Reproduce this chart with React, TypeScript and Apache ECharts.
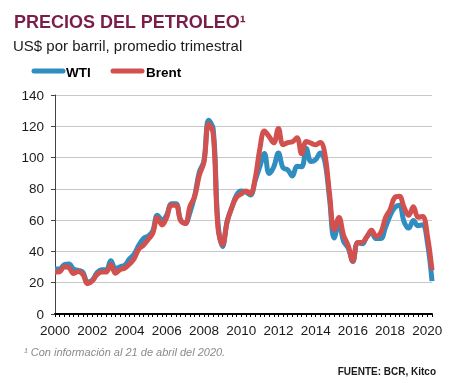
import React, { useEffect, useRef } from "react";
import * as echarts from "echarts";

const years = [2000, 2001, 2002, 2003, 2004, 2005, 2006, 2007, 2008, 2009, 2010, 2011, 2012, 2013, 2014, 2015, 2016, 2017, 2018, 2019, 2020];
const quarters = ["T1", "T2", "T3", "T4"];
const categories: string[] = [];
years.forEach((y) => quarters.forEach((q) => { if (!(y === 2020 && (q === "T3" || q === "T4"))) categories.push(y + q); }));

const wti = [
  28.8, 28.8, 31.6, 31.9,
  28.7, 27.9, 26.7, 20.4,
  21.6, 26.3, 28.3, 28.2,
  34.0, 28.9, 30.2, 31.2,
  35.2, 38.3, 43.9, 48.3,
  49.8, 53.1, 63.2, 60.0,
  63.3, 70.5, 70.5, 60.0,
  58.2, 65.0, 75.4, 90.7,
  97.9, 123.8, 118.1, 58.7,
  43.1, 59.5, 68.2, 76.0,
  78.7, 78.0, 76.1, 85.2,
  94.1, 102.6, 89.8, 94.0,
  102.9, 93.4, 92.2, 88.2,
  94.4, 94.2, 105.8, 97.5,
  98.7, 103.0, 97.2, 73.2,
  48.6, 57.9, 46.5, 42.2,
  33.6, 45.6, 44.9, 49.3,
  51.8, 48.2, 48.2, 55.3,
  62.9, 68.0, 69.5, 59.0,
  54.9, 59.8, 56.4, 57.0,
  46.0, 21.0,
];

const brent = [
  26.8, 27.0, 30.2, 29.6,
  25.9, 27.2, 25.3, 19.4,
  21.1, 25.1, 26.9, 26.8,
  31.5, 26.0, 28.4, 29.4,
  31.9, 35.4, 41.5, 44.0,
  47.6, 51.6, 61.6, 56.9,
  61.8, 69.6, 69.6, 59.7,
  57.8, 68.8, 74.9, 88.7,
  96.9, 121.4, 115.0, 55.5,
  44.4, 59.1, 68.2, 74.6,
  76.7, 78.7, 76.9, 86.5,
  105.4, 117.0, 113.4, 109.4,
  118.6, 108.2, 109.6, 110.1,
  112.6, 102.4, 110.3, 109.2,
  108.2, 109.7, 101.9, 76.4,
  53.9, 61.7, 50.4, 43.7,
  33.9, 45.6, 45.8, 49.3,
  53.6, 49.6, 52.0, 61.4,
  66.8, 74.5, 75.2, 68.1,
  63.1, 68.5, 61.9, 62.4,
  50.3, 28.0,
];

const FONT = "'Liberation Sans', Arial, sans-serif";
const BLUE = "#2f8dbf";
const RED = "#d2514f";

export default function App() {
  const ref = useRef<HTMLDivElement>(null);
  useEffect(() => {
    const chart = echarts.init(ref.current!, null, { renderer: "svg" });
    chart.setOption({
      animation: false,
      textStyle: { fontFamily: FONT },
      grid: { left: 55, right: 21, top: 95, bottom: 69 },
      xAxis: {
        type: "category",
        data: categories,
        boundaryGap: false,
        axisLine: { lineStyle: { color: "#000", width: 2 } },
        axisTick: { show: true, interval: 0, length: 3, lineStyle: { color: "#000", width: 1 } },
        axisLabel: {
          interval: (i: number) => i % 8 === 0,
          formatter: (v: string) => v.slice(0, 4),
          color: "#1a1a1a",
          fontSize: 13.5,
          fontFamily: FONT,
          margin: 9,
        },
        splitLine: { show: false },
      },
      yAxis: {
        type: "value",
        min: 0,
        max: 140,
        interval: 20,
        axisLine: { show: true, lineStyle: { color: "#444", width: 1 } },
        axisTick: { show: true, length: 4, lineStyle: { color: "#444" } },
        axisLabel: { color: "#1a1a1a", fontSize: 13.5, fontFamily: FONT, margin: 11 },
        splitLine: { lineStyle: { color: "#c8c8c8", width: 1 } },
      },
      series: [
        {
          name: "WTI",
          type: "line",
          data: wti,
          smooth: 0.4,
          showSymbol: false,
          lineStyle: { color: BLUE, width: 5 },
          itemStyle: { color: BLUE },
          z: 2,
        },
        {
          name: "Brent",
          type: "line",
          data: brent,
          smooth: 0.4,
          showSymbol: false,
          lineStyle: { color: RED, width: 5 },
          itemStyle: { color: RED },
          z: 3,
        },
      ],
      graphic: [
        {
          type: "text",
          x: 14,
          y: 22,
          style: { text: "PRECIOS DEL PETROLEO¹", fill: "#7a1d4a", font: `bold 18px ${FONT}`, verticalAlign: "middle" },
        },
        {
          type: "text",
          x: 13,
          y: 45,
          style: { text: "US$ por barril, promedio trimestral", fill: "#1a1a1a", font: `15px ${FONT}`, verticalAlign: "middle" },
        },
        { type: "line", shape: { x1: 34, y1: 71, x2: 63, y2: 71 }, style: { stroke: BLUE, lineWidth: 5, lineCap: "round" } },
        {
          type: "text",
          x: 66,
          y: 72,
          style: { text: "WTI", fill: "#000", font: `bold 13.5px ${FONT}`, verticalAlign: "middle" },
        },
        { type: "line", shape: { x1: 113, y1: 71, x2: 142, y2: 71 }, style: { stroke: RED, lineWidth: 5, lineCap: "round" } },
        {
          type: "text",
          x: 146,
          y: 72,
          style: { text: "Brent", fill: "#000", font: `bold 13.5px ${FONT}`, verticalAlign: "middle" },
        },
        {
          type: "text",
          x: 24,
          y: 352,
          style: { text: "¹ Con información al 21 de abril del 2020.", fill: "#8a8a8a", font: `italic 11px ${FONT}`, verticalAlign: "middle" },
        },
        {
          type: "text",
          x: 436,
          y: 371,
          style: { text: "FUENTE: BCR, Kitco", fill: "#1a1a1a", font: `bold 10px ${FONT}`, align: "right", verticalAlign: "middle" },
        },
      ],
    });
    return () => chart.dispose();
  }, []);
  return <div ref={ref} style={{ position: "fixed", left: 0, top: 0, width: 453, height: 383 }} />;
}
